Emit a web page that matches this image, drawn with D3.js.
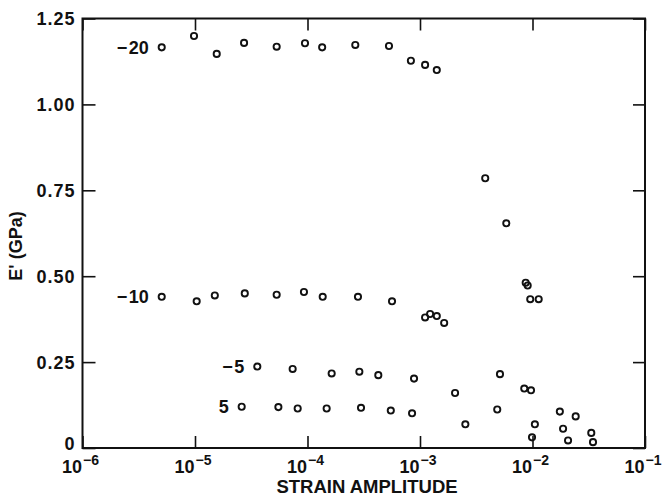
<!DOCTYPE html>
<html>
<head>
<meta charset="utf-8">
<script src="https://cdnjs.cloudflare.com/ajax/libs/d3/7.8.5/d3.min.js"></script>
<style>
  body { margin: 0; background: #fff; }
  text { font-family: "Liberation Sans", Arial, Helvetica, sans-serif; font-weight: bold; fill: #111; }
</style>
</head>
<body>
<div id="chart"></div>
<script>
//DATA: strain amplitude and storage modulus E' (GPa), one pair of arrays per temperature
var strainM20 = [5.06e-6, 9.8e-6, 1.56e-5, 2.73e-5, 5.32e-5, 9.5e-5, 1.35e-4, 2.66e-4, 5.3e-4, 8.3e-4, 1.11e-3, 1.41e-3, 3.8e-3, 5.85e-3, 8.7e-3, 9.06e-3, 9.55e-3, 1.135e-2];
var modM20 = [1.166, 1.199, 1.147, 1.179, 1.168, 1.178, 1.166, 1.173, 1.170, 1.127, 1.115, 1.100, 0.785, 0.654, 0.481, 0.473, 0.433, 0.433];

var strainM10 = [5.06e-6, 1.035e-5, 1.5e-5, 2.77e-5, 5.32e-5, 9.3e-5, 1.365e-4, 2.81e-4, 5.64e-4, 1.11e-3, 1.23e-3, 1.41e-3, 1.64e-3, 5.14e-3, 8.45e-3, 9.7e-3, 1.75e-2, 2.42e-2];
var modM10 = [0.440, 0.427, 0.444, 0.450, 0.446, 0.454, 0.440, 0.440, 0.427, 0.380, 0.390, 0.384, 0.364, 0.215, 0.173, 0.168, 0.106, 0.092];

var strainM5 = [3.58e-5, 7.38e-5, 1.64e-4, 2.89e-4, 4.26e-4, 8.85e-4, 2.05e-3, 4.86e-3, 1.05e-2, 1.87e-2, 3.33e-2];
var modM5 = [0.237, 0.230, 0.217, 0.222, 0.212, 0.202, 0.160, 0.112, 0.069, 0.056, 0.044];

var strainP5 = [2.6e-5, 5.51e-5, 8.18e-5, 1.48e-4, 2.99e-4, 5.5e-4, 8.5e-4, 2.53e-3, 9.9e-3, 2.07e-2, 3.45e-2];
var modP5 = [0.120, 0.119, 0.115, 0.115, 0.117, 0.109, 0.101, 0.069, 0.031, 0.022, 0.017];

var seriesLabels = ["\u2212\u200a20", "\u2212\u200a10", "\u2212\u200a5", "5"];

var xTicks = [1e-6, 1e-5, 1e-4, 1e-3, 1e-2, 1e-1];
var xTickExp = ["\u22126", "\u22125", "\u22124", "\u22123", "\u22122", "\u22121"];
var yTicks = [0, 0.25, 0.5, 0.75, 1.0, 1.25];

//CANVAS
var svgWidth = 669;
var svgHeight = 496;
var margin = { top: 18.5, bottom: 48, left: 82.5, right: 24 };
var chartWidth = svgWidth - margin.left - margin.right;
var chartHeight = svgHeight - margin.top - margin.bottom;

var svg = d3.select("#chart")
    .append("svg")
    .attr("width", svgWidth)
    .attr("height", svgHeight);

var chartGroup = svg.append("g")
    .attr("transform", `translate(${margin.left}, ${margin.top})`);

//SCALES
var xScale = d3.scaleLog().domain([1e-6, 1e-1]).range([0, chartWidth]);
var yScale = d3.scaleLinear().domain([0, 1.25]).range([chartHeight, 0]);

//AXES - ticks point inward on all four sides
var bottomAxis = d3.axisBottom(xScale).tickValues(xTicks).tickSizeInner(-12).tickSizeOuter(0).tickFormat("");
var topAxis = d3.axisTop(xScale).tickValues(xTicks).tickSizeInner(-12).tickSizeOuter(0).tickFormat("");
var leftAxis = d3.axisLeft(yScale).tickValues(yTicks).tickSizeInner(-13).tickSizeOuter(0).tickPadding(7)
    .tickFormat(d => d === 0 ? "0" : d3.format(".2f")(d));
var rightAxis = d3.axisRight(yScale).tickValues(yTicks).tickSizeInner(-12).tickSizeOuter(0).tickFormat("");

var gBottom = chartGroup.append("g").attr("transform", `translate(0, ${chartHeight})`).call(bottomAxis);
chartGroup.append("g").call(topAxis);
var gLeft = chartGroup.append("g").call(leftAxis);
chartGroup.append("g").attr("transform", `translate(${chartWidth}, 0)`).call(rightAxis);

chartGroup.selectAll(".domain").remove();
chartGroup.selectAll(".tick line").attr("stroke", "#111").attr("stroke-width", 1.6);

gLeft.selectAll(".tick text")
    .style("font-size", "18px")
    .style("letter-spacing", "1px")
    .attr("dy", "0.36em");

//the zero label sits a little above its tick, clear of 10^-6
gLeft.selectAll(".tick text").filter(d => d === 0).attr("dy", "0.1em");

//x tick labels as 10 with a superscript exponent
gBottom.selectAll(".tick").each(function(d, i) {
    var t = d3.select(this).append("text")
        .attr("x", -21)
        .attr("y", 25)
        .attr("text-anchor", "start")
        .style("font-size", "18px");
    t.append("tspan").text("10");
    t.append("tspan").attr("dx", 1).attr("dy", -8).style("font-size", "14px").text(xTickExp[i]);
});

//FRAME
chartGroup.append("rect")
    .attr("width", chartWidth)
    .attr("height", chartHeight)
    .attr("fill", "none")
    .attr("stroke", "#111")
    .attr("stroke-width", 2);

//POINTS
var allSeries = [
    { x: strainM20, y: modM20 },
    { x: strainM10, y: modM10 },
    { x: strainM5, y: modM5 },
    { x: strainP5, y: modP5 }
];

allSeries.forEach(function(s, k) {
    var pts = s.x.map((v, i) => [v, s.y[i]]);

    chartGroup.append("g").selectAll("circle")
        .data(pts)
        .enter()
        .append("circle")
        .attr("cx", d => xScale(d[0]))
        .attr("cy", d => yScale(d[1]))
        .attr("r", 3.1)
        .attr("fill", "none")
        .attr("stroke", "#111")
        .attr("stroke-width", 1.9);

    //temperature label to the left of the first point
    chartGroup.append("text")
        .attr("x", xScale(pts[0][0]) - 13)
        .attr("y", yScale(pts[0][1]) + 6.5)
        .attr("text-anchor", "end")
        .style("font-size", "18px")
        .text(seriesLabels[k]);
});

//AXIS TITLES
svg.append("text")
    .attr("transform", "rotate(-90)")
    .attr("x", -246)
    .attr("y", 22)
    .attr("text-anchor", "middle")
    .style("font-size", "18px")
    .text("E' (GPa)");

svg.append("text")
    .attr("x", 367)
    .attr("y", 493)
    .attr("text-anchor", "middle")
    .style("font-size", "18.5px")
    .text("STRAIN AMPLITUDE");
</script>
</body>
</html>
